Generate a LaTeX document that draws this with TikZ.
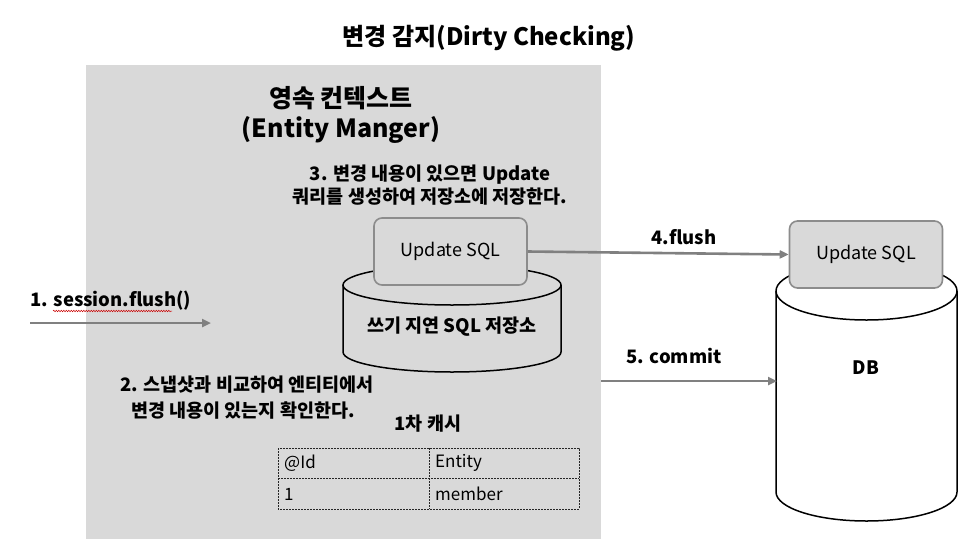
\documentclass[tikz,border=0pt]{standalone}
\usepackage{fontspec}
\setmainfont{Noto Sans CJK KR}
\usetikzlibrary{arrows.meta,decorations.pathmorphing}
\definecolor{panel}{HTML}{D9D9D9}
\definecolor{arrowgray}{HTML}{808080}
\definecolor{boxborder}{HTML}{8C8C8C}
\tikzset{
  sqlbox/.style={draw=boxborder, line width=1.6pt, fill=panel, rounded corners=8pt,
    minimum width=153pt, minimum height=67pt, font=\fontsize{18}{21}\selectfont},
  flowarrow/.style={draw=arrowgray, line width=2.6pt, -{Triangle[length=9pt,width=8pt]}},
  cyl/.style={draw=black, line width=1.5pt},
  lbl/.style={font=\bfseries\fontsize{18.5}{22}\selectfont, inner sep=0pt},
  cell/.style={font=\fontsize{17}{20}\selectfont, inner sep=0pt, anchor=west},
  tbl/.style={draw=black!85, line width=0.8pt, dash pattern=on 2pt off 1pt}
}
\begin{document}
\begin{tikzpicture}[x=1pt,y=-1pt]
\useasboundingbox (0,0) rectangle (979,552);
\fill[white] (0,0) rectangle (979,552);
% panel
\fill[panel] (86,65) rectangle (601,539);
% title
\node[font=\bfseries\fontsize{24}{28}\selectfont, inner sep=0pt] (title) at (489,38) {변경 감지(Dirty Checking)};
\node[font=\bfseries\fontsize{25}{29}\selectfont, inner sep=0pt] (pc) at (341,98) {영속 컨텍스트};
\node[font=\bfseries\fontsize{25}{29}\selectfont, inner sep=0pt] (em) at (341,130) {(Entity Manger)};
\node[lbl] (s3a) at (430,175) {3. 변경 내용이 있으면 Update};
\node[lbl] (s3b) at (430,197) {쿼리를 생성하여 저장소에 저장한다.};
% left cylinder
\draw[cyl] (343,285) -- (343,352) arc[start angle=180,end angle=0,x radius=109,y radius=20] -- (561,285);
\draw[cyl] (452,285) ellipse [x radius=109, y radius=20];
\node[lbl] (store) at (452,327) {쓰기 지연 SQL 저장소};
\node[sqlbox] (lsql) at (450.5,251.5) {Update SQL};
% DB cylinder
\fill[white] (776,291) -- (776,492) arc[start angle=180,end angle=0,x radius=90.5,y radius=29] -- (957,291) -- cycle;
\draw[cyl] (776,291) -- (776,492) arc[start angle=180,end angle=0,x radius=90.5,y radius=29] -- (957,291);
\draw[cyl] (866.5,291) ellipse [x radius=90.5, y radius=29];
\node[lbl] (db) at (866,368) {DB};
\node[sqlbox] (rsql) at (866,254.5) {Update SQL};
% step 1
\node[lbl, anchor=west] (s1) at (30,301) {1. session.flush()};
\draw[red!80!black, line width=0.5pt, decorate, decoration={snake, amplitude=0.7pt, segment length=2.5pt}] (53,311) -- (172,311);
\coordinate (a1s) at (30,323);
\coordinate (a1e) at (211,323);
\draw[flowarrow] (a1s) -- (a1e);
% step 2
\node[lbl] (s2a) at (247,385) {2. 스냅샷과 비교하여 엔티티에서};
\node[lbl] (s2b) at (243,411) {변경 내용이 있는지 확인한다.};
% cache
\node[lbl] (cache) at (428,424) {1차 캐시};
\draw[tbl] (278,448) rectangle (579,509);
\draw[tbl] (278,478) -- (579,478);
\draw[tbl] (429,448) -- (429,509);
\node[cell] (c11) at (284,463) {@Id};
\node[cell] (c12) at (435,463) {Entity};
\node[cell] (c21) at (284,494) {1};
\node[cell] (c22) at (435,494) {member};
% step 4
\draw[flowarrow] (lsql.east) -- (rsql.west);
\node[lbl] (s4) at (684,237) {4.flush};
% step 5
\coordinate (a5s) at (601,381);
\coordinate (a5e) at (777,381);
\draw[flowarrow] (a5s) -- (a5e);
\node[lbl] (s5) at (674,356) {5. commit};
\end{tikzpicture}
\end{document}
